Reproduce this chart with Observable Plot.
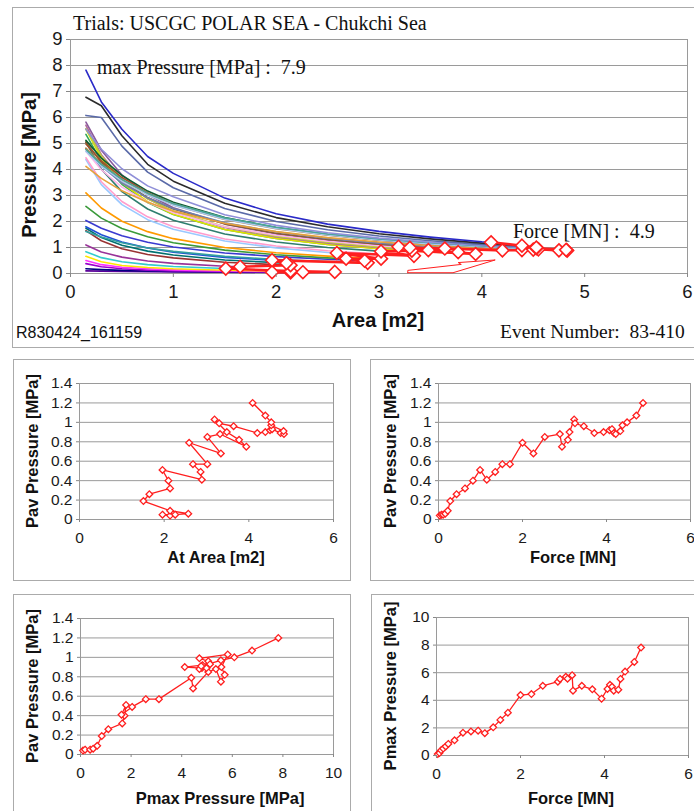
<!DOCTYPE html>
<html><head><meta charset="utf-8">
<script src="https://cdn.jsdelivr.net/npm/d3@7"></script>
<script src="https://cdn.jsdelivr.net/npm/@observablehq/plot@0.6"></script>
<style>
body{margin:0;background:#fff;}
#page{position:relative;width:694px;height:811px;overflow:hidden;background:#fff;}
.box{position:absolute;border:1px solid #ababab;box-sizing:border-box;}
.t{position:absolute;white-space:pre;color:#111;line-height:1;}
.serif{font-family:"Liberation Serif","Times New Roman",serif;}
.sans{font-family:"Liberation Sans",Arial,sans-serif;}
.b{font-weight:bold;}
</style></head><body><div id="page"></div>
<script>
// ---- time series of the event (time order) ----
const force        = [0.03,0.07,0.11,0.16,0.22,0.28,0.43,0.63,0.82,0.99,1.15,1.35,1.52,1.70,2.00,2.26,2.53,2.89,2.94,3.08,3.12,3.23,3.25,3.46,3.71,3.93,4.07,4.13,4.18,4.22,4.33,4.38,4.49,4.71,4.87];
const pavPressure  = [0.04,0.05,0.05,0.06,0.09,0.19,0.26,0.32,0.40,0.51,0.41,0.49,0.57,0.57,0.79,0.68,0.85,0.88,0.75,0.82,0.90,1.03,0.99,0.96,0.89,0.90,0.92,0.93,0.89,0.88,0.91,0.97,1.00,1.07,1.20];
const pmaxPressure = [0.10,0.18,0.38,0.50,0.66,0.84,1.10,1.65,1.74,1.80,1.62,2.04,2.58,3.10,4.38,4.45,5.05,5.35,5.55,5.70,5.57,5.82,4.70,5.05,4.80,4.12,4.82,5.12,4.98,4.70,4.77,5.55,6.08,6.78,7.82];
const atArea       = [2.14,1.96,2.26,2.57,2.14,1.51,1.65,2.14,2.10,1.96,2.89,2.86,2.68,3.02,2.59,3.34,3.02,3.32,3.94,3.77,3.48,3.19,3.30,3.64,4.20,4.39,4.50,4.55,4.75,4.83,4.82,4.53,4.53,4.39,4.09];

// ---- pressure-area profiles (one per time step), read at these areas ----
const areaGrid = [0.15,0.3,0.5,0.75,1,1.5,2,2.5,3,3.5,4,4.5];
const profilePressures = [
  [0.1,0.09,0.08,0.07,0.06,0.05,0.042],
  [0.18,0.15,0.12,0.097,0.081,0.061],
  [0.38,0.26,0.18,0.13,0.1,0.073,0.056],
  [0.5,0.34,0.24,0.18,0.14,0.1,0.076,0.062],
  [0.66,0.45,0.31,0.23,0.18,0.125,0.096],
  [0.84,0.61,0.45,0.34,0.27,0.19],
  [1.1,0.83,0.63,0.48,0.39,0.28],
  [1.65,1.26,0.95,0.73,0.6,0.43,0.34],
  [1.74,1.38,1.09,0.86,0.71,0.52,0.42],
  [1.8,1.49,1.21,0.98,0.82,0.62],
  [1.62,1.4,1.18,0.98,0.85,0.66,0.54,0.46],
  [2.04,1.74,1.45,1.2,1.02,0.79,0.65,0.55],
  [2.58,2.13,1.73,1.41,1.18,0.9,0.72,0.6],
  [3.1,2.52,2.01,1.61,1.34,1.0,0.8,0.67,0.57],
  [4.38,3.42,2.65,2.07,1.7,1.25,0.985,0.81],
  [4.45,3.53,2.77,2.18,1.8,1.33,1.06,0.875,0.75],
  [5.05,4.01,3.15,2.48,2.05,1.52,1.21,1.0,0.86],
  [5.35,4.31,3.43,2.73,2.27,1.69,1.35,1.12,0.96],
  [5.55,4.43,3.49,2.76,2.28,1.69,1.35,1.12,0.955,0.83],
  [5.7,4.57,3.62,2.87,2.38,1.77,1.41,1.17,1.0,0.876],
  [5.57,4.52,3.61,2.88,2.4,1.8,1.43,1.2,1.02],
  [5.82,4.74,3.79,3.04,2.53,1.9,1.52,1.27,1.09],
  [4.7,3.99,3.32,2.74,2.34,1.8,1.47,1.24,1.07],
  [5.05,4.27,3.54,2.92,2.48,1.91,1.55,1.31,1.13,0.99],
  [4.8,4.13,3.48,2.91,2.5,1.95,1.6,1.35,1.17,1.04,0.93],
  [4.12,3.66,3.18,2.74,2.4,1.93,1.61,1.38,1.21,1.08,0.97],
  [4.82,4.21,3.59,3.04,2.64,2.08,1.72,1.47,1.28,1.13,1.01],
  [5.12,4.44,3.77,3.17,2.74,2.15,1.77,1.5,1.31,1.16,1.04,0.94],
  [4.98,4.33,3.69,3.11,2.69,2.12,1.75,1.49,1.29,1.15,1.03,0.93],
  [4.7,4.13,3.55,3.02,2.63,2.09,1.73,1.48,1.29,1.14,1.03,0.93],
  [4.77,4.2,3.62,3.09,2.69,2.14,1.78,1.52,1.33,1.18,1.06,0.96],
  [5.55,4.78,4.03,3.37,2.95,2.26,1.85,1.57,1.36,1.2,1.08,0.98],
  [6.08,6.0,4.9,3.9,3.3,2.5,2.0,1.68,1.44,1.26,1.12,1.01],
  [6.78,6.45,5.3,4.2,3.55,2.7,2.15,1.8,1.53,1.33,1.17],
  [7.82,6.6,5.55,4.5,3.85,2.9,2.3,1.9,1.62,1.4,1.22]
];
const profileColors = ["#5a0099","#000080","#9900cc","#ff33ff","#ffe600","#33cccc","#993399","#993333","#007070","#1f4fd6",
  "#33a0a0","#3a3ad0","#3a9a3a","#ff9a00","#99c8ff","#ff9ccc","#2e7d6e","#33aa55","#e0e000","#b06a9a",
  "#bcd23c","#8a5a9c","#ffb3e6","#8b5a2b","#6f7fae","#e6a23c","#c08040","#0d5c34","#a0522d","#a8c8f0",
  "#4aa89a","#8f8fd8","#5a6aa8","#2b2b2b","#2a2ac8"];

// small outlined arrow drawn on the main chart
const arrowArea     = [3.28,3.28,3.80,3.77,4.13,3.72,3.28];
const arrowPressure = [0.03,0.12,0.35,0.42,0.52,0.03,0.03];

// tick labels
const mainXTicks = [0,1,2,3,4,5,6];
const mainYTicks = [0,1,2,3,4,5,6,7,8,9];
const pavTicks   = [0,0.2,0.4,0.6,0.8,1,1.2,1.4];
const forceTicks = [0,2,4,6];
const pmaxTicks  = [0,2,4,6,8,10];

// ---- build ----
const page = document.getElementById("page");
const RED = "#ff1f1f";
const seq = force.map((f,i)=>({force:f, pav:pavPressure[i], pmax:pmaxPressure[i], area:atArea[i]}));
const curveRows = [];
profilePressures.forEach((ps,i)=>{
  ps.forEach((p,j)=>curveRows.push({series:i, area:areaGrid[j], pressure:p, color:profileColors[i]}));
  curveRows.push({series:i, area:atArea[i], pressure:pavPressure[i], color:profileColors[i]});
});
const arrowRows = arrowArea.map((a,i)=>({area:a, pressure:arrowPressure[i]}));

function box(l,t,w,h){const d=document.createElement("div");d.className="box";
  Object.assign(d.style,{left:l+"px",top:t+"px",width:w+"px",height:h+"px"});page.appendChild(d);}
function txt(s,cls,size,x,y,opts={}){const d=document.createElement("div");d.className="t "+cls;d.textContent=s;
  d.style.fontSize=size+"px";d.style.top=y+"px";d.style.left=x+"px";
  if(opts.rot){d.style.transform="translate(-50%,-50%) rotate(-90deg)";}
  else if(opts.center){d.style.transform="translate(-50%,-50%)";}
  else {d.style.transform="translateY(-50%)";}
  page.appendChild(d);}

box(12,7,720,341);
box(13,359,338,222);
box(370,359,400,222);
box(13,594,338,300);
box(371,594,400,300);

const fmt = d3.format("~g");
const main = Plot.plot({
  width:694, height:303, marginLeft:70, marginRight:7, marginTop:39, marginBottom:30,
  style:{font:"18.5px 'Liberation Sans', Arial, sans-serif", color:"#1a1a1a", background:"transparent", overflow:"visible"},
  x:{domain:[0,6]}, y:{domain:[0,9]}, color:{type:"identity"},
  marks:[
    Plot.gridY(mainYTicks,{stroke:"#9a9a9a", strokeOpacity:1}),
    Plot.frame({stroke:"#9a9a9a"}),
    Plot.line(curveRows,{x:"area", y:"pressure", z:"series", stroke:"color", strokeWidth:1.6}),
    Plot.line(arrowRows,{x:"area", y:"pressure", stroke:RED, strokeWidth:1}),
    Plot.line(seq,{x:"area", y:"pav", stroke:RED, strokeWidth:2.6}),
    Plot.dot(seq,{x:"area", y:"pav", symbol:"diamond2", r:5.8, stroke:RED, fill:"white", strokeWidth:1.6}),
    Plot.axisX(mainXTicks,{tickSize:4, tickPadding:7, label:null, stroke:"#888"}),
    Plot.axisY(mainYTicks,{tickSize:4, tickPadding:4, label:null, stroke:"#888"})
  ]
});
main.style.position="absolute"; main.style.left="0px"; main.style.top="0px";
page.appendChild(main);

function panel({x,y,xDomain,yDomain,xTicks,yTicks,left,right,top,bottom}){
  const mL=52,mR=8,mT=9,mB=32;
  const p = Plot.plot({
    width:right-left+mL+mR, height:bottom-top+mT+mB, marginLeft:mL, marginRight:mR, marginTop:mT, marginBottom:mB,
    style:{font:"15.5px 'Liberation Sans', Arial, sans-serif", color:"#1a1a1a", background:"transparent", overflow:"visible"},
    x:{domain:xDomain}, y:{domain:yDomain},
    marks:[
      Plot.gridY(yTicks,{stroke:"#9a9a9a", strokeOpacity:1}),
      Plot.frame({stroke:"#9a9a9a"}),
      Plot.line(seq,{x, y, stroke:RED, strokeWidth:1.3}),
      Plot.dot(seq,{x, y, symbol:"diamond2", r:3, stroke:RED, fill:"white", strokeWidth:1.3}),
      Plot.axisX(xTicks,{tickSize:3, tickPadding:9, label:null, tickFormat:fmt, stroke:"#888"}),
      Plot.axisY(yTicks,{tickSize:3, tickPadding:4, label:null, tickFormat:fmt, stroke:"#888"})
    ]
  });
  p.style.position="absolute"; p.style.left=(left-mL)+"px"; p.style.top=(top-mT)+"px";
  page.appendChild(p);
}
panel({x:"area", y:"pav", xDomain:[0,6], yDomain:[0,1.4], xTicks:forceTicks, yTicks:pavTicks, left:79, right:333, top:383, bottom:519});
panel({x:"force", y:"pav", xDomain:[0,6], yDomain:[0,1.4], xTicks:forceTicks, yTicks:pavTicks, left:438, right:690, top:383, bottom:519});
panel({x:"pmax", y:"pav", xDomain:[0,10], yDomain:[0,1.4], xTicks:pmaxTicks, yTicks:pavTicks, left:80, right:333, top:618, bottom:754});
panel({x:"force", y:"pmax", xDomain:[0,6], yDomain:[0,10], xTicks:forceTicks, yTicks:pmaxTicks, left:436, right:688, top:617, bottom:755});

// ---- texts ----
txt("Trials: USCGC POLAR SEA - Chukchi Sea","serif",20,73,23);
txt("max Pressure [MPa] :  7.9","serif",20,97,67);
txt("Force [MN] :  4.9","serif",20,513,231);
txt("Pressure [MPa]","sans b",20,29,165,{rot:true});
txt("Area [m2]","sans b",20,378,320,{center:true});
txt("R830424_161159","sans",16,16,333);
txt("Event Number:  83-410","serif",19.5,500,332);

txt("Pav Pressure [MPa]","sans b",16.5,32,451,{rot:true});
txt("At Area [m2]","sans b",16.5,216,557,{center:true});
txt("Pav Pressure [MPa]","sans b",16.5,390,451,{rot:true});
txt("Force [MN]","sans b",16.5,573,557,{center:true});
txt("Pav Pressure [MPa]","sans b",16.5,32,686,{rot:true});
txt("Pmax Pressure [MPa]","sans b",16.5,220,798,{center:true});
txt("Pmax Pressure [MPa]","sans b",16.5,390,686,{rot:true});
txt("Force [MN]","sans b",16.5,571,798,{center:true});
</script></body></html>
